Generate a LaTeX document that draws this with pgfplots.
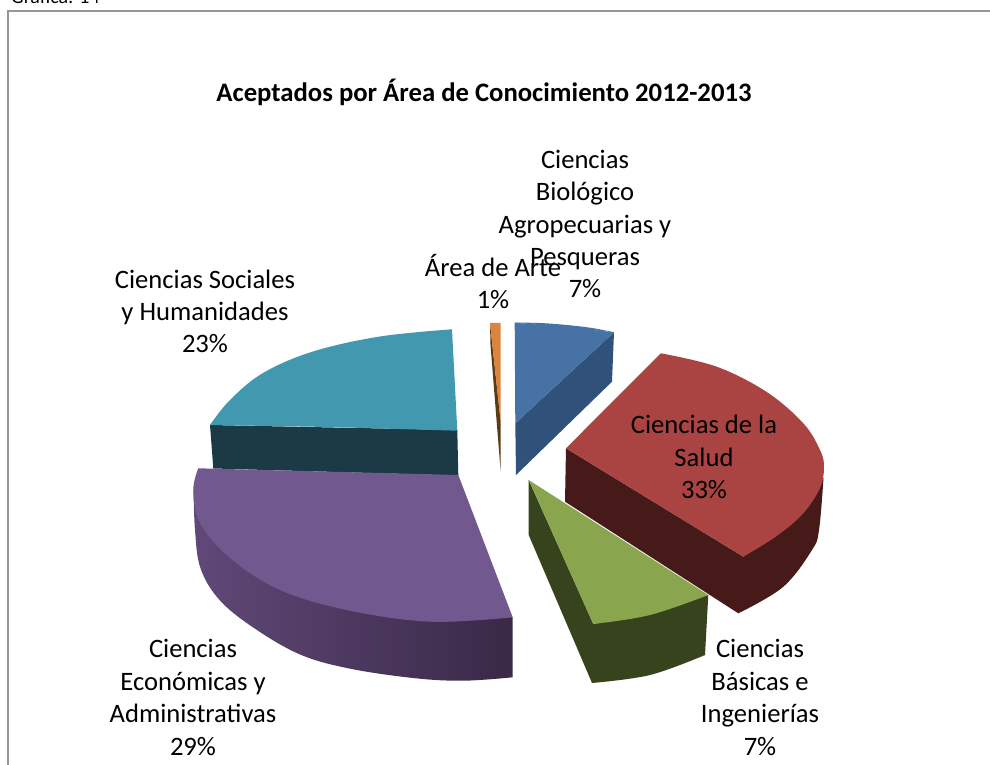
\documentclass[border=0pt]{standalone}
\usepackage{pgfplots}
\pgfplotsset{compat=1.18}
\usepackage{fontspec}
\setmainfont{Carlito}
\definecolor{bluet}{HTML}{4672A6}\definecolor{blues}{HTML}{30527A}
\definecolor{redt}{HTML}{A94442}\definecolor{reds}{HTML}{451A18}
\definecolor{greent}{HTML}{89A54E}\definecolor{greens}{HTML}{37431D}
\definecolor{purpt}{HTML}{71588F}\definecolor{purpl}{HTML}{604878}\definecolor{purpr}{HTML}{392946}
\definecolor{tealt}{HTML}{4198AF}\definecolor{teals}{HTML}{1B3A45}
\definecolor{oranget}{HTML}{DB843D}\definecolor{oranges}{HTML}{5C3A12}
\definecolor{framec}{HTML}{969696}
\tikzset{lab/.style={align=center,font=\fontsize{26.7}{32.5}\selectfont,text=black,inner sep=0pt},
  arc/.style={draw=none,smooth,tension=.6}}
\begin{document}
\begin{tikzpicture}[x=1bp,y=1bp]
\clip (0,0) rectangle (990,765);
\begin{axis}[at={(0,0)},anchor=south west,scale only axis,width=990bp,height=765bp,
  xmin=0,xmax=990,ymin=0,ymax=765,y dir=reverse,hide axis,clip=false]
% frame
\addplot[framec,line width=2bp] coordinates {(990,11.5)(8.3,11.5)(8.3,765)};
% teal
\addplot[fill=teals,draw=none] coordinates {(210,425)(213.3,468.5)(458.3,475.5)(457.3,430)} -- cycle;
\addplot[fill=tealt,arc] coordinates {(452,329.3)(380,336.5)(313,351.5)(263,373)(230,400)(210,425)} -- cycle;
\addplot[fill=tealt,draw=none] coordinates {(452,329.3)(330,365)(210,425)(330,427)(457.3,430.7)} -- cycle;
% purple side
\addplot[arc,left color=purpl,right color=purpr] coordinates {(193.5,490)(195,530)(200,566.7)(216.7,596.7)(246.7,623)(296.7,653)(346.7,668)(413,678)(463,680.7)(512.7,677.3)} -- cycle;
\addplot[draw=none,left color=purpl,right color=purpr] coordinates {(193.5,490)(350,595)(512.7,677.3)(512.7,617.3)} -- cycle;
% purple top
\addplot[fill=purpt,arc] coordinates {(512.7,617.3)(430,621.7)(346.7,610)(280,590)(230,558)(200,523)(193.3,490)(198.3,468.3)} -- cycle;
\addplot[fill=purpt,draw=none] coordinates {(198.3,468.3)(458.3,475)(512.7,617.3)(300,530)} -- cycle;
% orange
\addplot[fill=oranges,draw=none] coordinates {(490,323)(500.5,420)(500.7,472)(490.5,345)} -- cycle;
\addplot[fill=oranget,draw=none] coordinates {(490,323)(500.7,323)(500.5,420)} -- cycle;
% blue
\addplot[fill=blues,draw=none] coordinates {(515.3,423.3)(614,332.3)(612,381.7)(516,475)} -- cycle;
\addplot[fill=bluet,arc] coordinates {(514.7,322.7)(540,323)(566.7,325)(592,328)(614,332.3)} -- cycle;
\addplot[fill=bluet,draw=none] coordinates {(514.7,322.7)(565,327)(614,332.3)(515.3,423.3)} -- cycle;
% red side
\addplot[fill=reds,arc] coordinates {(823.5,478)(819,530)(812,550)(783,587)(738.3,613.3)} -- cycle;
\addplot[fill=reds,draw=none] coordinates {(566,448.3)(565,501.7)(738.3,613.3)(780,560)(823.5,478)(743.3,556.7)} -- cycle;
% red top
\addplot[fill=redt,arc] coordinates {(660.7,353.3)(716.7,366.7)(766.7,392)(803.3,423.3)(820,450)(824,467)(820,488)(803.3,513.3)(776.7,536)(743.3,556.7)} -- cycle;
\addplot[fill=redt,draw=none] coordinates {(660.7,353.3)(720,450)(743.3,556.7)(566,448.3)} -- cycle;
% green
\addplot[fill=greens,arc] coordinates {(592,683)(650,675)(705,655)} -- cycle;
\addplot[fill=greens,draw=none] coordinates {(528.7,480)(528.7,535)(592,683)(650,672)(705,655)(708.3,595)(593.3,624)} -- cycle;
\addplot[fill=greent,arc] coordinates {(708.3,595)(650,615)(593.3,624)} -- cycle;
\addplot[fill=greent,draw=none] coordinates {(528.7,480)(708.3,595)(650,612)(593.3,624)} -- cycle;
% texts
\node[lab,anchor=base west,font=\fontsize{20}{24}\selectfont] at (axis cs:11,3.5) {Gráfica: 14};
\node[lab,font=\fontsize{26.8}{30}\selectfont\bfseries] at (axis cs:484,92) {Aceptados por Área de Conocimiento 2012-2013};
\node[lab] at (axis cs:585,224) {Ciencias\\Biológico\\Agropecuarias y\\Pesqueras\\7\%};
\node[lab] at (axis cs:493,281.5) {Área de Arte\\1\%};
\node[lab] at (axis cs:205,311.5) {Ciencias Sociales\\y Humanidades\\23\%};
\node[lab] at (axis cs:704,457) {Ciencias de la\\Salud\\33\%};
\node[lab] at (axis cs:193,697.5) {Ciencias\\Económicas y\\Administrativas\\29\%};
\node[lab] at (axis cs:760,697.5) {Ciencias\\Básicas e\\Ingenierías\\7\%};
\end{axis}
\end{tikzpicture}
\end{document}
